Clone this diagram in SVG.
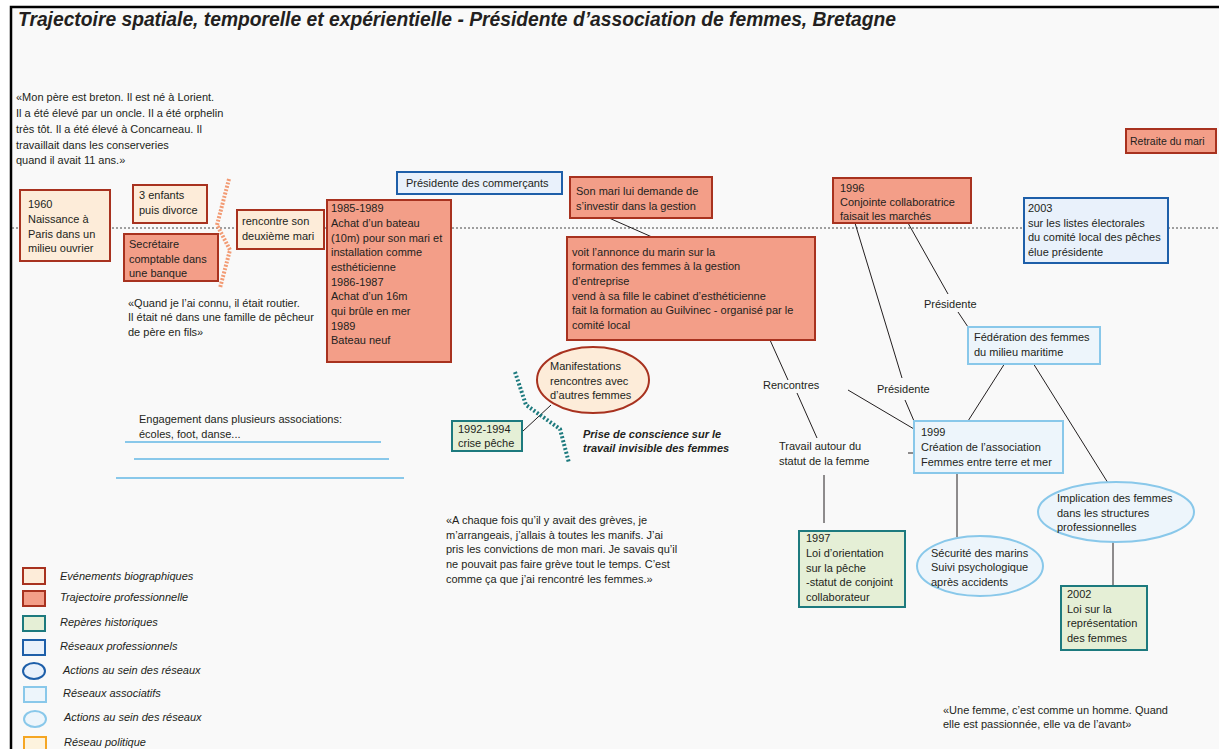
<svg xmlns="http://www.w3.org/2000/svg" width="1219" height="749" viewBox="0 0 1219 749">
<style>
text{font-family:"Liberation Sans",Arial,sans-serif;font-size:11px;fill:#231f20}
.bio{fill:#fdecd9;stroke:#a8321f;stroke-width:2}
.pro{fill:#f39e88;stroke:#a8321f;stroke-width:2}
.hist{fill:#e5efd6;stroke:#1d7a7e;stroke-width:2}
.resp{fill:#e9f1fb;stroke:#1e5fa9;stroke-width:2}
.assoc{fill:#edf5fb;stroke:#89c8ea;stroke-width:2}
.pol{fill:#fdf3de;stroke:#f5a623;stroke-width:2}
.ln{stroke:#231f20;stroke-width:1;fill:none}
.leg{font-style:italic}
</style>
<rect x="0" y="0" width="1219" height="749" fill="#ffffff"/>
<rect x="11" y="7" width="1208" height="742" fill="#f9f9f9"/>
<path d="M11,749 V7 H1219" fill="none" stroke="#000" stroke-width="2.5"/>
<text x="18" y="26" style="font-size:20px;font-weight:bold;font-style:italic" textLength="878" lengthAdjust="spacingAndGlyphs">Trajectoire spatiale, temporelle et expérientielle - Présidente d’association de femmes, Bretagne</text>

<line x1="12" y1="228" x2="1219" y2="228" stroke="#444" stroke-width="1" stroke-dasharray="2,2"/>

<g id="quote1">
<text x="16" y="101">«Mon père est breton. Il est né à Lorient.</text>
<text x="16" y="117">Il a été élevé par un oncle. Il a été orphelin</text>
<text x="16" y="133">très tôt. Il a été élevé à Concarneau. Il</text>
<text x="16" y="149">travaillait dans les conserveries</text>
<text x="16" y="164">quand il avait 11 ans.»</text>
</g>

<g id="connectors">
<line class="ln" x1="609" y1="218" x2="652" y2="237"/>
<line class="ln" x1="908" y1="223" x2="948" y2="294"/>
<line class="ln" x1="958" y1="312" x2="968" y2="327"/>
<line class="ln" x1="855" y1="223" x2="902" y2="378"/>
<line class="ln" x1="905" y1="400" x2="914" y2="421"/>
<line class="ln" x1="770" y1="340" x2="788" y2="380"/>
<line class="ln" x1="797" y1="393" x2="817" y2="438"/>
<line class="ln" x1="848" y1="390" x2="914" y2="429"/>
<line class="ln" x1="908" y1="453" x2="914" y2="453"/>
<line class="ln" x1="1005" y1="363" x2="968" y2="421"/>
<line class="ln" x1="1033" y1="363" x2="1108" y2="483"/>
<line class="ln" x1="1113" y1="542" x2="1113" y2="586"/>
<line class="ln" x1="957" y1="473" x2="957" y2="537"/>
<line class="ln" x1="824" y1="475" x2="824" y2="523"/>
<line class="ln" x1="551" y1="405" x2="523" y2="431"/>
<polyline points="229,179 217,225 230,250 220,288" fill="none" stroke="#f29b74" stroke-width="4" stroke-dasharray="2,1.5"/>
<polyline points="515,372 526,405 560,429 569,463" fill="none" stroke="#1d7a7e" stroke-width="4" stroke-dasharray="2,2"/>
<line x1="125" y1="442" x2="381" y2="442" stroke="#89c8ea" stroke-width="2"/>
<line x1="134" y1="459" x2="389" y2="459" stroke="#89c8ea" stroke-width="2"/>
<line x1="116" y1="478" x2="404" y2="478" stroke="#89c8ea" stroke-width="2"/>
</g>

<g id="n1960">
<rect class="bio" x="20" y="190" width="90" height="71"/>
<text x="28" y="208">1960</text>
<text x="28" y="223">Naissance à</text>
<text x="28" y="238">Paris dans un</text>
<text x="28" y="252">milieu ouvrier</text>
</g>
<g id="enfants">
<rect class="bio" x="133" y="185" width="74" height="38"/>
<text x="139" y="199">3 enfants</text>
<text x="139" y="214">puis divorce</text>
</g>
<g id="secretaire">
<rect class="pro" x="124" y="234" width="94" height="47"/>
<text x="129" y="248">Secrétaire</text>
<text x="129" y="263">comptable dans</text>
<text x="129" y="277">une banque</text>
</g>
<g id="rencontre">
<rect class="bio" x="237" y="210" width="87" height="39"/>
<text x="242" y="225">rencontre son</text>
<text x="242" y="240">deuxième mari</text>
</g>
<g id="quote2">
<text x="128" y="307">«Quand je l’ai connu, il était routier.</text>
<text x="128" y="321">Il était né dans une famille de pêcheur</text>
<text x="128" y="336">de père en fils»</text>
</g>
<g id="bateau">
<rect class="pro" x="327" y="200" width="124" height="162"/>
<text x="331" y="212">1985-1989</text>
<text x="331" y="227">Achat d’un bateau</text>
<text x="331" y="242">(10m) pour son mari et</text>
<text x="331" y="256">installation comme</text>
<text x="331" y="271">esthéticienne</text>
<text x="331" y="286">1986-1987</text>
<text x="331" y="300">Achat d’un 16m</text>
<text x="331" y="315">qui brûle en mer</text>
<text x="331" y="330">1989</text>
<text x="331" y="344">Bateau neuf</text>
</g>
<g id="commercants">
<rect class="resp" x="397" y="172" width="165" height="22"/>
<text x="406" y="187">Présidente des commerçants</text>
</g>
<g id="sonmari">
<rect class="pro" x="570" y="177" width="142" height="41"/>
<text x="576" y="195">Son mari lui demande de</text>
<text x="576" y="210">s’investir dans la gestion</text>
</g>
<g id="annonce">
<rect class="pro" x="567" y="237" width="248" height="103"/>
<text x="572" y="256">voit l’annonce du marin sur la</text>
<text x="572" y="270">formation des femmes à la gestion</text>
<text x="572" y="285">d’entreprise</text>
<text x="572" y="300">vend à sa fille le cabinet d’esthéticienne</text>
<text x="572" y="314">fait la formation au Guilvinec - organisé par le</text>
<text x="572" y="329">comité local</text>
</g>
<g id="n1996">
<rect class="pro" x="833" y="178" width="138" height="45"/>
<text x="840" y="192">1996</text>
<text x="840" y="206">Conjointe collaboratrice</text>
<text x="840" y="220">faisait les marchés</text>
</g>
<g id="n2003">
<rect class="resp" x="1024" y="198" width="144" height="65"/>
<text x="1028" y="212">2003</text>
<text x="1028" y="227">sur les listes électorales</text>
<text x="1028" y="241">du comité local des pêches</text>
<text x="1028" y="256">élue présidente</text>
</g>
<g id="retraite">
<rect class="pro" x="1126" y="129" width="90" height="24"/>
<text x="1130" y="145" style="font-size:10.5px">Retraite du mari</text>
</g>
<g id="labels">
<text x="924" y="308">Présidente</text>
<text x="877" y="393">Présidente</text>
<text x="763" y="389">Rencontres</text>
<text x="779" y="450">Travail autour du</text>
<text x="779" y="465">statut de la femme</text>
</g>
<g id="federation">
<rect class="assoc" x="968" y="327" width="132" height="37"/>
<text x="974" y="341">Fédération des femmes</text>
<text x="974" y="356">du milieu maritime</text>
</g>
<g id="n1999">
<rect class="assoc" x="914" y="421" width="149" height="52"/>
<text x="921" y="436">1999</text>
<text x="921" y="451">Création de l’association</text>
<text x="921" y="466">Femmes entre terre et mer</text>
</g>
<g id="implication">
<ellipse class="assoc" cx="1116" cy="512" rx="78" ry="30"/>
<text x="1057" y="502">Implication des femmes</text>
<text x="1057" y="517">dans les structures</text>
<text x="1057" y="531">professionnelles</text>
</g>
<g id="n2002">
<rect class="hist" x="1061" y="586" width="86" height="64"/>
<text x="1067" y="598">2002</text>
<text x="1067" y="613">Loi sur la</text>
<text x="1067" y="627">représentation</text>
<text x="1067" y="642">des femmes</text>
</g>
<g id="securite">
<ellipse class="assoc" cx="980" cy="566" rx="63" ry="30"/>
<text x="931" y="557">Sécurité des marins</text>
<text x="931" y="571">Suivi psychologique</text>
<text x="931" y="586">après accidents</text>
</g>
<g id="n1997">
<rect class="hist" x="799" y="531" width="106" height="76"/>
<text x="806" y="542">1997</text>
<text x="806" y="557">Loi d’orientation</text>
<text x="806" y="572"> sur la pêche</text>
<text x="806" y="586">-statut de conjoint</text>
<text x="806" y="601">collaborateur</text>
</g>
<g id="quote3">
<text x="446" y="524">«A chaque fois qu’il y avait des grèves, je</text>
<text x="446" y="539">m’arrangeais, j’allais à toutes les manifs. J’ai</text>
<text x="446" y="553">pris les convictions de mon mari. Je savais qu’il</text>
<text x="446" y="568">ne pouvait pas faire grève tout le temps. C’est</text>
<text x="446" y="583">comme ça que j’ai rencontré les femmes.»</text>
</g>
<g id="n1992">
<rect class="hist" x="452" y="421" width="70" height="30"/>
<text x="458" y="433">1992-1994</text>
<text x="458" y="447">crise pêche</text>
</g>
<g id="manifestations">
<ellipse class="bio" cx="593" cy="380" rx="56" ry="33"/>
<text x="550" y="370">Manifestations</text>
<text x="550" y="385">rencontres avec</text>
<text x="550" y="399">d’autres femmes</text>
</g>
<g id="prise">
<text x="583" y="438" style="font-weight:bold;font-style:italic">Prise de conscience sur le</text>
<text x="583" y="452" style="font-weight:bold;font-style:italic">travail invisible des femmes</text>
</g>
<g id="engagement">
<text x="139" y="423">Engagement dans plusieurs associations:</text>
<text x="139" y="438">écoles, foot, danse...</text>
</g>
<g id="quote4">
<text x="943" y="714">«Une femme, c’est comme un homme. Quand</text>
<text x="943" y="728">elle est passionnée, elle va de l’avant»</text>
</g>
<g id="legend">
<rect class="bio" x="23" y="568" width="22" height="16"/>
<text class="leg" x="60" y="580">Evénements biographiques</text>
<rect class="pro" x="23" y="591" width="22" height="15"/>
<text class="leg" x="60" y="601">Trajectoire professionnelle</text>
<rect class="hist" x="23" y="616" width="22" height="15"/>
<text class="leg" x="60" y="626">Repères historiques</text>
<rect class="resp" x="23" y="640" width="22" height="15"/>
<text class="leg" x="60" y="650">Réseaux professionnels</text>
<ellipse class="resp" cx="34" cy="671" rx="11" ry="8"/>
<text class="leg" x="63" y="674">Actions au sein des réseaux</text>
<rect class="assoc" x="24" y="687" width="22" height="15"/>
<text class="leg" x="63" y="697">Réseaux associatifs</text>
<ellipse class="assoc" cx="35" cy="719" rx="11" ry="8"/>
<text class="leg" x="64" y="721">Actions au sein des réseaux</text>
<rect class="pol" x="24" y="737" width="22" height="15"/>
<text class="leg" x="64" y="746">Réseau politique</text>
</g>
</svg>
